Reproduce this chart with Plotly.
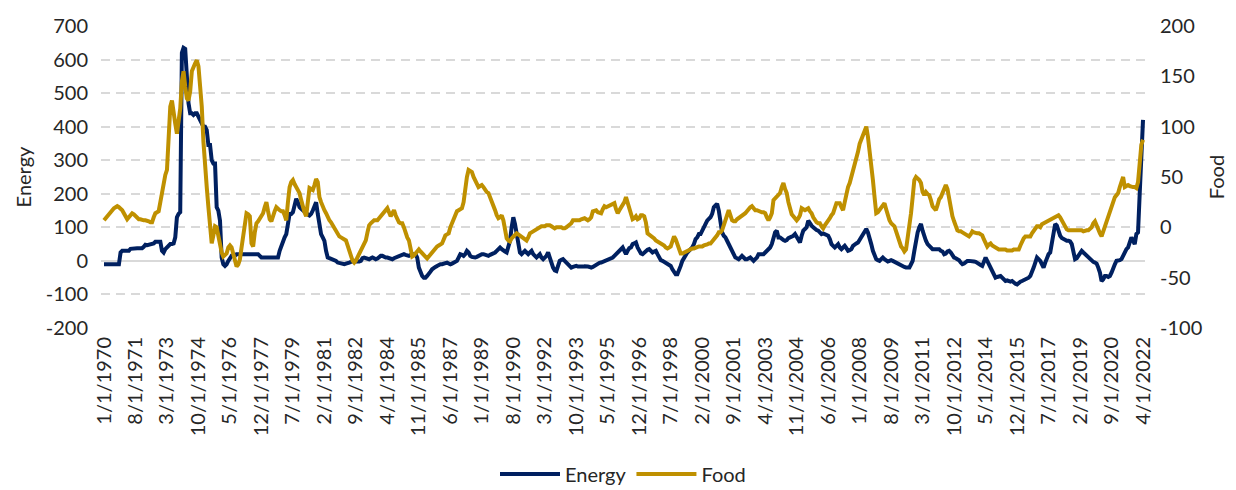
import pandas as pd
import plotly.graph_objects as go

# ---------------- data (monthly, 1/1970 .. 4/2022) ----------------
energy = [
    -10, -10, -10, -10, -10, -10, -10, -10, -10, -10, 25, 30,          # 1970
    30, 30, 30, 30, 36, 37, 37, 38, 38, 38, 37, 38,                    # 1971
    42, 48, 47, 48, 48, 49, 52, 57, 57, 58, 57, 30,                    # 1972
    25, 35, 40, 45, 50, 50, 52, 70, 130, 140, 145, 620,                # 1973
    635, 632, 520, 470, 440, 440, 435, 440, 440, 430, 420, 410,        # 1974
    400, 400, 390, 345, 345, 300, 290, 290, 160, 150, 120, 10,         # 1975
    -10, -15, -10, 0, 10, 15, 15, 15, 20, 20, 20, 20,                  # 1976
    20, 20, 20, 20, 20, 20, 20, 20, 20, 20, 15, 10,                    # 1977
    10, 10, 10, 10, 10, 10, 10, 10, 10, 10, 30, 45,                    # 1978
    60, 70, 80, 110, 140, 140, 145, 165, 185, 175, 160, 155,           # 1979
    150, 145, 140, 138, 135, 140, 150, 165, 175, 140, 110, 80,         # 1980
    70, 60, 30, 10, 8, 6, 5, 3, 0, -5, -6, -8,                         # 1981
    -10, -10, -8, -5, -5, -3, 0, 0, -2, -3, -2, 0,                     # 1982
    8, 10, 8, 5, 5, 8, 10, 8, 5, 7, 12, 15,                            # 1983
    15, 12, 10, 10, 8, 5, 5, 8, 10, 10, 12, 15,                        # 1984
    18, 20, 18, 15, 15, 18, 20, 20, 20, 10, -20, -35,                  # 1985
    -45, -50, -50, -45, -40, -32, -25, -20, -18, -15, -12, -10,        # 1986
    -10, -8, -5, -5, -8, -10, -8, -5, -2, 0, 10, 20,                   # 1987
    18, 15, 20, 30, 25, 15, 12, 10, 10, 12, 15, 18,                    # 1988
    20, 20, 18, 15, 15, 18, 20, 22, 25, 30, 35, 40,                    # 1989
    35, 30, 28, 25, 40, 60, 100, 130, 110, 80, 40, 25,                 # 1990
    20, 25, 30, 25, 20, 25, 30, 20, 15, 10, 15, 20,                    # 1991
    10, 5, 10, 15, 25, 10, -10, -20, -28, -30, -15, 0,                 # 1992
    3, 5, 0, -5, -10, -15, -20, -18, -15, -15, -17, -18,               # 1993
    -18, -17, -16, -15, -17, -18, -20, -18, -15, -10, -8, -6,          # 1994
    -5, -3, -2, 0, 2, 4, 5, 10, 15, 20, 25, 30,                        # 1995
    35, 40, 30, 20, 30, 38, 40, 50, 52, 55, 40, 30,                    # 1996
    22, 20, 25, 30, 33, 35, 30, 25, 28, 30, 20, 10,                    # 1997
    2, 0, -3, -5, -8, -12, -15, -25, -32, -40, -40, -30,               # 1998
    -15, 0, 8, 20, 25, 30, 35, 40, 50, 65, 70, 80,                     # 1999
    80, 90, 105, 110, 120, 125, 130, 140, 160, 165, 170, 150,          # 2000
    110, 85, 75, 70, 60, 50, 35, 25, 15, 10, 8, 5,                     # 2001
    10, 15, 10, 5, 5, 8, 10, 5, 0, 5, 10, 20,                          # 2002
    20, 18, 20, 25, 30, 35, 40, 50, 65, 85, 90, 70,                    # 2003
    70, 65, 62, 60, 62, 68, 70, 72, 75, 80, 70, 60,                    # 2004
    55, 75, 90, 95, 100, 120, 110, 105, 100, 95, 92, 90,               # 2005
    85, 80, 82, 80, 78, 75, 65, 50, 45, 40, 45, 50,                    # 2006
    40, 35, 40, 45, 38, 30, 32, 35, 45, 50, 52, 55,                    # 2007
    62, 70, 80, 88, 95, 85, 70, 50, 30, 15, 5, 2,                      # 2008
    0, 5, 10, 5, 0, -2, 0, 2, 0, -3, -5, -8,                           # 2009
    -10, -12, -15, -18, -20, -20, -20, -10, 0, 30, 60, 85,             # 2010
    100, 110, 90, 70, 60, 50, 45, 40, 35, 35, 35, 35,                  # 2011
    35, 30, 28, 20, 22, 28, 30, 25, 15, 10, 8, 5,                      # 2012
    2, -5, -10, -8, -3, 0, 0, 0, 0, -2, -3, -5,                        # 2013
    -8, -12, -15, 0, 10, 0, -10, -20, -30, -40, -50, -48,              # 2014
    -45, -45, -50, -55, -60, -58, -60, -62, -60, -65, -68, -70,        # 2015
    -65, -62, -60, -58, -55, -55, -50, -45, -35, -20, -5, 10,          # 2016
    5, 0, -10, -20, -5, 10, 20, 25, 50, 80, 110, 105,                  # 2017
    85, 75, 68, 65, 62, 60, 60, 58, 50, 30, 5, 8,                      # 2018
    15, 22, 30, 25, 20, 15, 10, 5, 0, -3, -5, -8,                      # 2019
    -20, -35, -60, -55, -45, -45, -48, -45, -35, -20, -10, 0,          # 2020
    0, 2, 5, 15, 30, 35, 40, 55, 70, 60, 50, 80,                       # 2021
    85, 200, 350, 420,                                                 # 2022
]

food = [
    7, 9, 12, 14, 15, 17, 19, 20, 21, 20, 19, 17,                      # 1970
    14, 10, 8, 10, 12, 14, 13, 11, 9, 8, 8, 7,                         # 1971
    7, 7, 7, 6, 5, 5, 10, 14, 15, 16, 25, 34,                          # 1972
    48, 52, 57, 100, 120, 126, 112, 103, 93, 105, 118, 145,            # 1973
    155, 140, 128, 126, 135, 155, 160, 163, 166, 160, 140, 120,        # 1974
    85, 55, 40, 20, -5, -16, -8, 1, 0, -10, -19, -25,                  # 1975
    -29, -28, -26, -20, -18, -20, -26, -32, -39, -37, -32, -20,        # 1976
    -6, 5, 14, 13, 11, -16, -19, -5, 4, 6, 9, 12,                      # 1977
    14, 20, 25, 16, 8, 6, 12, 16, 20, 18, 17, 16,                      # 1978
    16, 12, 7, 25, 40, 45, 47, 43, 40, 36, 34, 27,                     # 1979
    20, 15, 11, 25, 39, 38, 37, 42, 48, 45, 30, 25,                    # 1980
    20, 17, 14, 10, 7, 5, 2, 0, -3, -6, -9, -10,                       # 1981
    -11, -12, -13, -18, -22, -28, -33, -35, -33, -30, -26, -22,        # 1982
    -19, -16, -13, -5, 2, 4, 6, 7, 7, 7, 9, 11,                        # 1983
    12, 14, 16, 19, 15, 11, 14, 17, 12, 7, 5, 4,                       # 1984
    4, 0, -6, -10, -13, -20, -29, -28, -26, -24, -22, -24,             # 1985
    -26, -28, -30, -31, -29, -27, -25, -22, -20, -19, -18, -17,        # 1986
    -16, -12, -8, -7, -6, 0, 4, 8, 12, 16, 17, 18,                     # 1987
    19, 25, 40, 50, 57, 56, 55, 50, 47, 44, 40, 41,                    # 1988
    42, 40, 37, 35, 34, 30, 27, 22, 17, 12, 9, 10,                     # 1989
    12, 7, -5, -11, -13, -14, -11, -9, -7, -6, -7, -8,                 # 1990
    -10, -11, -12, -13, -10, -6, -5, -4, -3, -2, 0, 1,                 # 1991
    1, 1, 1, 2, 2, 2, 1, 0, -1, 0, 0, 0,                               # 1992
    0, -1, -1, 0, 1, 2, 4, 7, 7, 6, 6, 7,                              # 1993
    8, 9, 9, 8, 7, 8, 10, 16, 17, 17, 15, 14,                          # 1994
    14, 18, 21, 20, 21, 22, 22, 23, 24, 18, 14, 17,                    # 1995
    20, 21, 25, 30, 24, 18, 12, 8, 9, 11, 8, 9,                        # 1996
    12, 12, 11, 5, -6, -7, -8, -9, -11, -13, -14, -15,                 # 1997
    -15, -16, -18, -20, -21, -20, -19, -14, -9, -12, -16, -22,         # 1998
    -26, -26, -25, -24, -23, -22, -22, -21, -21, -20, -20, -19,        # 1999
    -19, -19, -18, -18, -17, -16, -16, -14, -12, -11, -8, -5,          # 2000
    -5, -3, 3, 7, 12, 17, 12, 7, 6, 6, 8, 9,                           # 2001
    10, 11, 12, 14, 16, 19, 20, 21, 19, 17, 17, 16,                    # 2002
    16, 15, 15, 14, 10, 7, 10, 14, 27, 29, 30, 32,                     # 2003
    34, 40, 44, 38, 34, 25, 17, 13, 11, 9, 7, 9,                       # 2004
    12, 19, 18, 17, 18, 19, 16, 14, 10, 7, 5, 4,                       # 2005
    4, 1, -1, 2, 4, 6, 9, 12, 14, 19, 24, 24,                          # 2006
    24, 20, 17, 25, 34, 40, 44, 50, 54, 60, 67, 75,                    # 2007
    83, 88, 93, 97, 100, 90, 77, 62, 47, 30, 14, 15,                   # 2008
    17, 20, 22, 24, 18, 11, 7, 4, 2, 1, -4, -9,                        # 2009
    -15, -19, -21, -24, -22, -12, 0, 14, 30, 47, 50, 49,               # 2010
    47, 44, 35, 32, 35, 33, 32, 27, 21, 19, 17, 22,                    # 2011
    28, 30, 35, 38, 42, 38, 27, 18, 11, 6, 1, -3,                      # 2012
    -4, -4, -5, -6, -7, -8, -9, -7, -4, -5, -6, -6,                    # 2013
    -6, -7, -8, -12, -16, -19, -17, -16, -18, -19, -21, -21,           # 2014
    -22, -22, -22, -22, -22, -23, -23, -24, -23, -22, -22, -22,        # 2015
    -22, -18, -13, -11, -9, -9, -9, -9, -6, -3, -1, 1,                 # 2016
    1, 0, 3, 4, 5, 6, 7, 7, 8, 9, 10, 11,                              # 2017
    12, 10, 7, 3, -1, -2, -3, -3, -3, -3, -3, -3,                      # 2018
    -3, -3, -3, -4, -3, -3, -3, -2, 0, 4, 6, 2,                        # 2019
    -3, -6, -9, -4, 1, 6, 11, 16, 22, 26, 30, 32,                      # 2020
    34, 40, 45, 50, 40, 41, 42, 41, 40, 40, 40, 39,                    # 2021
    45, 67, 82, 87,                                                    # 2022
]

tick_labels = ['1/1/1970', '8/1/1971', '3/1/1973', '10/1/1974', '5/1/1976',
               '12/1/1977', '7/1/1979', '2/1/1981', '9/1/1982', '4/1/1984',
               '11/1/1985', '6/1/1987', '1/1/1989', '8/1/1990', '3/1/1992',
               '10/1/1993', '5/1/1995', '12/1/1996', '7/1/1998', '2/1/2000',
               '9/1/2001', '4/1/2003', '11/1/2004', '6/1/2006', '1/1/2008',
               '8/1/2009', '3/1/2011', '10/1/2012', '5/1/2014', '12/1/2015',
               '7/1/2017', '2/1/2019', '9/1/2020', '4/1/2022']

energy_ticks = [700, 600, 500, 400, 300, 200, 100, 0, -100, -200]
food_ticks = [200, 150, 100, 50, 0, -50, -100]

months = pd.date_range('1970-01-01', periods=len(energy), freq='MS')
dates = [f"{d.month}/1/{d.year}" for d in months]
tick_pos = [dates.index(t) for t in tick_labels]

NAVY = '#002060'
GOLD = '#BF9000'
GRID = '#d9d9d9'
TXT = '#262626'
FONT = 'Lato, "Open Sans", sans-serif'
FS = 20

fig = go.Figure()
fig.add_trace(go.Scatter(x=dates, y=energy, name='Energy', mode='lines',
                         line=dict(color=NAVY, width=4), yaxis='y'))
fig.add_trace(go.Scatter(x=dates, y=food, name='Food', mode='lines',
                         line=dict(color=GOLD, width=4), yaxis='y2'))

xr = [-1.81, len(dates) - 1 + 1.2]

fig.update_layout(
    width=1236, height=490,
    margin=dict(l=101, r=91, t=26, b=162),
    paper_bgcolor='white', plot_bgcolor='white',
    font=dict(family=FONT, size=FS, color=TXT),
    showlegend=True,
    legend=dict(orientation='h', x=0.5, xanchor='center', xref='paper',
                y=1 - 474 / 490, yanchor='middle', yref='container',
                font=dict(size=FS, color=TXT), itemwidth=60, traceorder='normal'),
    xaxis=dict(type='category', range=xr, tickvals=tick_labels, ticktext=tick_labels,
               tickangle=-90, showgrid=False, zeroline=False, showline=False,
               ticks='', ticklabelstandoff=4, automargin=False,
               tickfont=dict(size=FS, color=TXT)),
    xaxis2=dict(type='linear', range=xr, overlaying='x', anchor='free', position=200 / 900,
                showline=True, linecolor=GRID, linewidth=1.5, ticks='outside', ticklen=6,
                tickcolor=GRID, tickwidth=1.5, tickvals=tick_pos, showticklabels=False,
                showgrid=False, zeroline=False, automargin=False),
    yaxis=dict(range=[-200, 700], tickvals=energy_ticks,
               ticktext=[str(v) for v in energy_ticks],
               showgrid=True, gridcolor=GRID,
               gridwidth=1.5, griddash='9px,6px', zeroline=True, zerolinecolor=GRID,
               zerolinewidth=1.5, showline=False, ticks='', ticklabelstandoff=12,
               automargin=False,
               title=dict(text='Energy', font=dict(size=FS, color=TXT), standoff=8),
               tickfont=dict(size=FS, color=TXT)),
    yaxis2=dict(range=[-100, 200], tickvals=food_ticks,
                ticktext=[str(v) for v in food_ticks],
                overlaying='y', side='right',
                showgrid=False, zeroline=False, showline=False, ticks='',
                ticklabelstandoff=14, automargin=False,
                title=dict(text='Food', font=dict(size=FS, color=TXT), standoff=8),
                tickfont=dict(size=FS, color=TXT)),
)

fig.write_html("out.html", config={'displayModeBar': False},
               post_script="document.body.style.margin='0';document.body.style.overflow='hidden';")
